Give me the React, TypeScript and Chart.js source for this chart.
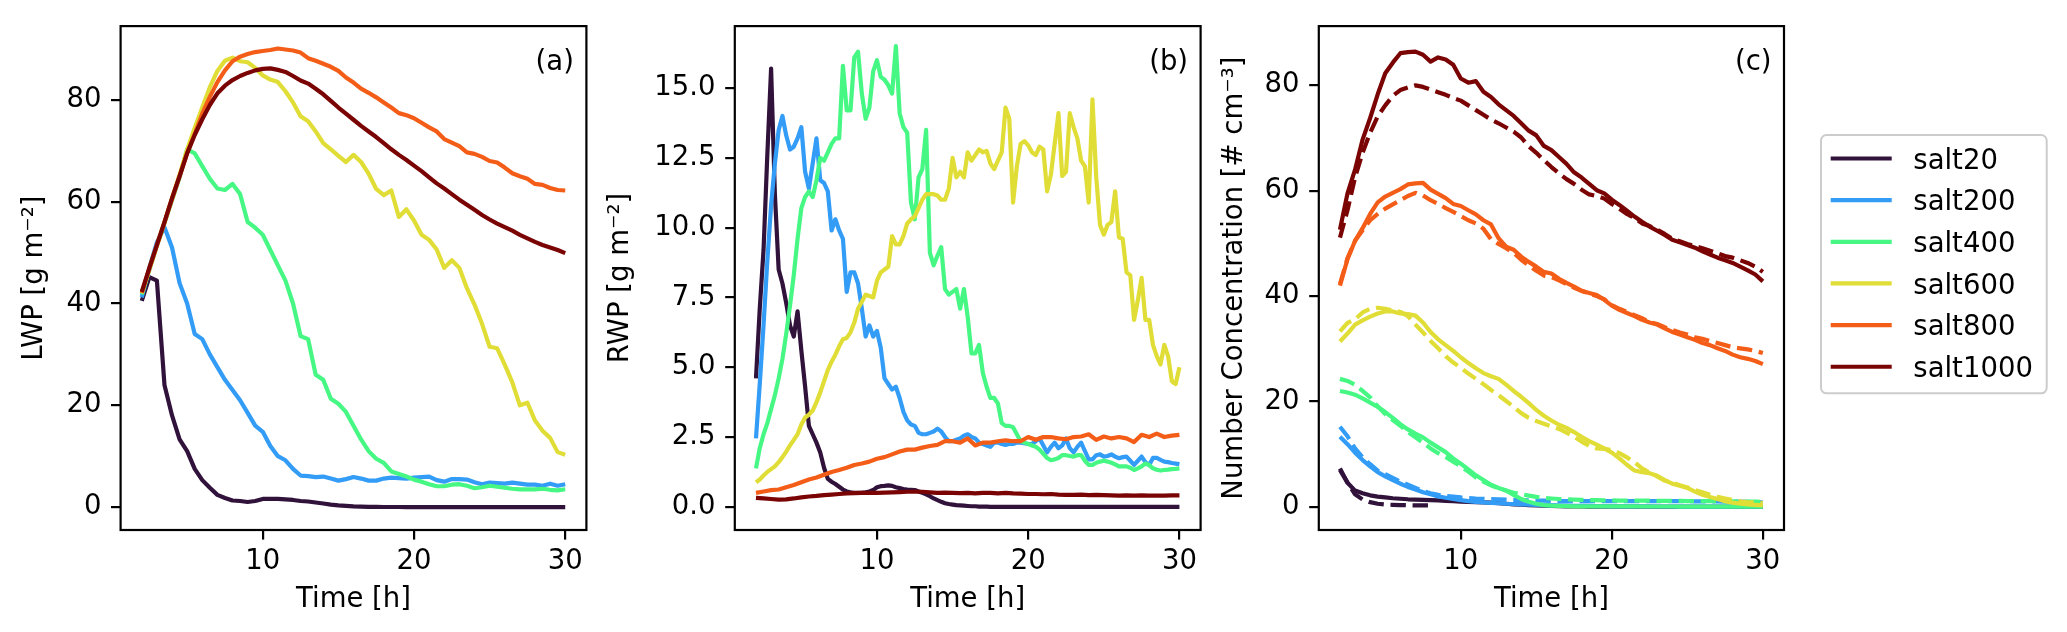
import React, { useEffect, useRef } from "react";
import { Chart, registerables } from "chart.js";

Chart.register(...registerables);

// ------------------------------------------------------------------ data
const T_HALF = [
  2, 2.5, 3, 3.5, 4, 4.5, 5, 5.5, 6, 6.5, 7, 7.5, 8, 8.5, 9, 9.5, 10, 10.5, 11, 11.5,
  12, 12.5, 13, 13.5, 14, 14.5, 15, 15.5, 16, 16.5, 17, 17.5, 18, 18.5, 19, 19.5, 20,
  20.5, 21, 21.5, 22, 22.5, 23, 23.5, 24, 24.5, 25, 25.5, 26, 26.5, 27, 27.5, 28, 28.5,
  29, 29.5, 30,
];

const T_QUARTER = [
  2, 2.25, 2.5, 2.75, 3, 3.25, 3.5, 3.75, 4, 4.25, 4.5, 4.75, 5, 5.25, 5.5, 5.75,
  6, 6.25, 6.5, 6.75, 7, 7.25, 7.5, 7.75, 8, 8.25, 8.5, 8.75, 9, 9.25, 9.5, 9.75,
  10, 10.25, 10.5, 10.75, 11, 11.25, 11.5, 11.75, 12, 12.25, 12.5, 12.75, 13, 13.25, 13.5, 13.75,
  14, 14.25, 14.5, 14.75, 15, 15.25, 15.5, 15.75, 16, 16.25, 16.5, 16.75, 17, 17.25, 17.5, 17.75,
  18, 18.25, 18.5, 18.75, 19, 19.25, 19.5, 19.75, 20, 20.25, 20.5, 20.75, 21, 21.25, 21.5, 21.75,
  22, 22.25, 22.5, 22.75, 23, 23.25, 23.5, 23.75, 24, 24.25, 24.5, 24.75, 25, 25.25, 25.5, 25.75,
  26, 26.25, 26.5, 26.75, 27, 27.25, 27.5, 27.75, 28, 28.25, 28.5, 28.75, 29, 29.25, 29.5, 29.75,
  30,
];

const X_TICKS = [10, 20, 30];
const LWP_TICKS = [0, 20, 40, 60, 80];
const RWP_TICKS = [0, 2.5, 5, 7.5, 10, 12.5, 15];
const NC_TICKS = [0, 20, 40, 60, 80];

const SALT_LABELS = ["salt20", "salt200", "salt400", "salt600", "salt800", "salt1000"];
const SALT_COLORS = ["#30123b", "#329cf6", "#46f784", "#e1dd37", "#f45d17", "#7a0403"];

// (a) liquid water path, half-hourly
const LWP_SALT20 = [
  40.5, 45.2, 44.5, 24, 18, 13.3, 11, 7.5, 5.3, 3.8, 2.4, 1.8, 1.3, 1.2, 1.0, 1.2, 1.6, 1.6, 1.6, 1.5,
  1.4, 1.2, 1.1, 0.9, 0.7, 0.5, 0.35, 0.25, 0.15, 0.1, 0.05, 0.03, 0.02, 0.02, 0.02, 0.01, 0.01, 0.01, 0.01, 0.01,
  0, 0, 0, 0, 0, 0, 0, 0, 0, 0, 0, 0, 0, 0, 0, 0, 0,
];
const LWP_SALT200 = [
  41.2, 47, 52, 55, 51, 44, 40, 34, 33, 30, 27.5, 25, 23, 21, 18.5, 16, 14.8, 12, 10, 9.2,
  7.5, 6.2, 6.1, 5.9, 6.0, 5.6, 5.2, 5.5, 5.9, 5.6, 5.2, 5.2, 5.6, 5.8, 5.7, 5.6, 5.8, 5.9, 6.0, 5.3,
  5.0, 5.5, 5.5, 5.4, 4.9, 4.5, 4.8, 4.7, 4.6, 4.8, 4.6, 4.4, 4.4, 4.2, 4.6, 4.2, 4.5,
];
const LWP_SALT400 = [
  41.8, 46.6, 51.3, 55.8, 60.3, 64.8, 70.3, 69.5, 67, 64.5, 62.6, 62.3, 63.5, 61.5, 56, 54.9, 53.5, 50.5, 47.5, 44.5,
  40, 33.6, 33, 26, 25, 21.3, 20.3, 18.7, 16, 13.3, 11, 9.5, 8.7, 7, 6.5, 6, 5.4, 5, 4.5, 4.1,
  4.1, 4.4, 4.5, 4.2, 3.7, 3.9, 4.2, 4.0, 3.8, 3.6, 3.5, 3.5, 3.5, 3.6, 3.4, 3.3, 3.5,
];
const LWP_SALT600 = [
  42, 46.8, 51.4, 56, 60.7, 65.3, 70.2, 74.5, 78.5, 82.5, 85.7, 87.7, 88.3, 87.6, 87.4, 86.3, 84.8, 84, 83.5, 81.7,
  79.5, 76.8, 75.8, 73.8, 71.5, 70.3, 69, 67.8, 69.2, 67.8, 65.5, 62.5, 61.3, 62.2, 57, 58.5, 56.3, 53.5, 52.5, 50.6,
  47, 48.5, 47, 43, 39.8, 36, 31.5, 31.2, 28, 24.5, 20, 20.5, 17, 15, 13.6, 10.8, 10.3,
];
const LWP_SALT800 = [
  42.1, 46.8, 51.4, 55.9, 60.5, 65, 69.6, 73.3, 77.3, 80.6, 83.5, 85.8, 87.6, 88.5, 89, 89.4, 89.6, 89.8, 90.1, 89.9,
  89.7, 89.3, 88.2, 87.7, 87.1, 86.5, 85.7, 84.4, 83.4, 82.2, 81.4, 80.5, 79.5, 78.5, 77.4, 77, 76.4, 75.5, 74.6, 73.8,
  72.3, 71.6, 70.9, 69.7, 69.4, 68.8, 68, 67.7, 66.7, 65.6, 65, 64.5, 63.5, 63.3, 62.7, 62.3, 62.2,
];
const LWP_SALT1000 = [
  42.3, 47, 51.5, 56, 60.7, 65, 69.5, 73.1, 76.2, 79, 81.3, 82.8, 83.9, 84.7, 85.3, 85.8, 86.1, 86.2, 85.9, 85.5,
  84.7, 83.8, 83.2, 82.2, 81.1, 79.8, 78.5, 77.3, 76.1, 74.9, 73.8, 72.7, 71.5, 70.3, 69.2, 68.2, 67.1, 66, 64.8, 63.6,
  62.6, 61.5, 60.4, 59.4, 58.4, 57.4, 56.5, 55.7, 55, 54.3, 53.5, 52.8, 52.1, 51.5, 51, 50.5, 49.9,
];

// (b) rain water path; quarter-hourly for the spiky runs, half-hourly for the smooth ones
const RWP_SALT20 = [
  4.6, 7.1, 9.2, 12.6, 15.7, 11.2, 8.5, 8.0, 7.3, 6.5, 6.1, 7.0, 5.6, 4.3, 2.9, 2.6,
  2.3, 1.95, 1.4, 1.0, 0.9, 0.82, 0.72, 0.62, 0.55, 0.52, 0.5, 0.5, 0.5, 0.52, 0.55, 0.6,
  0.7, 0.74, 0.75, 0.77, 0.75, 0.7, 0.67, 0.64, 0.62, 0.61, 0.6, 0.55, 0.5, 0.45, 0.38, 0.3,
  0.24, 0.18, 0.13, 0.1, 0.08, 0.06, 0.05, 0.04, 0.03, 0.02, 0.02, 0.01, 0.01, 0.01, 0, 0,
  0, 0, 0, 0, 0, 0, 0, 0, 0, 0, 0, 0, 0, 0, 0, 0,
  0, 0, 0, 0, 0, 0, 0, 0, 0, 0, 0, 0, 0, 0, 0, 0,
  0, 0, 0, 0, 0, 0, 0, 0, 0, 0, 0, 0, 0, 0, 0, 0,
  0,
];
const RWP_SALT200 = [
  2.45, 4.4, 6.5, 8.8, 10.8, 12.3, 13.5, 14.0, 13.3, 12.8, 12.9, 13.2, 13.6, 12.0, 11.4, 12.3,
  13.2, 11.7, 11.6, 11.3, 9.9, 10.3, 9.9, 9.6, 7.7, 8.4, 8.4, 8.0, 7.1, 6.1, 6.5, 6.1,
  6.3, 5.7, 4.6, 4.4, 4.2, 4.3, 3.9, 3.4, 3.1, 2.95, 2.9, 2.65, 2.6, 2.6, 2.65, 2.7,
  2.8, 2.7, 2.5, 2.35, 2.35, 2.4, 2.45, 2.55, 2.6, 2.5, 2.45, 2.3, 2.25, 2.2, 2.15, 2.3,
  2.3, 2.25, 2.22, 2.25, 2.25, 2.3, 2.3, 2.28, 2.25, 2.25, 2.35, 2.45, 2.2, 1.95, 2.15, 2.3,
  2.1, 2.2, 2.45, 2.1, 1.95, 2.15, 2.3, 2.0, 1.7, 1.7, 1.85, 1.88, 1.8, 1.82, 1.88, 1.8,
  1.74, 1.78, 1.8, 1.65, 1.5, 1.65, 1.8, 1.6, 1.5, 1.75, 1.75, 1.68, 1.62, 1.6, 1.57, 1.55,
  1.53,
];
const RWP_SALT400 = [
  1.38, 2.1, 2.6, 3.0, 3.5, 4.0, 4.6, 5.3, 6.2, 7.2, 8.3, 9.6, 10.7, 11.1, 11.3, 11.1,
  11.7, 12.5, 12.4, 12.7, 13.0, 13.2, 13.2, 15.8, 14.2, 14.2, 16.1, 16.3, 14.8, 13.9, 14.3, 15.6,
  16.0, 15.4, 15.3, 15.1, 14.8, 16.5, 14.1, 13.6, 13.4, 10.9, 10.3, 11.8, 12.1, 13.5, 9.1, 8.65,
  9.0, 9.3, 7.8, 7.6, 7.7, 7.8, 7.1, 7.8, 6.8, 5.5, 5.5, 5.8, 4.8, 4.3, 3.9, 3.9,
  3.7, 3.0, 2.9, 2.9, 2.85, 2.6, 2.35, 2.3, 2.25, 2.2, 2.15, 2.05, 1.9, 1.75, 1.67, 1.7,
  1.75, 1.85, 1.85, 1.82, 1.8, 1.85, 1.85, 1.65, 1.5, 1.5, 1.58, 1.62, 1.65, 1.62, 1.58, 1.52,
  1.45, 1.45, 1.45, 1.4, 1.32, 1.38, 1.45, 1.55, 1.5, 1.38, 1.33, 1.3, 1.32, 1.33, 1.35, 1.36,
  1.38,
];
const RWP_SALT600 = [
  0.88, 0.98, 1.12, 1.25, 1.35, 1.45, 1.6, 1.78, 1.98, 2.2, 2.4, 2.6, 2.95, 3.2, 3.3, 3.45,
  3.75, 4.1, 4.5, 4.9, 5.2, 5.45, 5.75, 6.0, 6.05, 6.25, 6.6, 7.1, 7.35, 7.6, 7.55, 7.5,
  8.1, 8.4, 8.5, 8.6, 9.7, 9.4, 9.4, 9.7, 10.15, 10.3, 10.4, 10.7, 11.0, 11.2, 11.2, 11.2,
  11.15, 11.0, 11.0, 11.4, 12.5, 11.8, 12.0, 11.8, 12.7, 12.4, 12.6, 12.8, 12.7, 12.75, 12.3, 12.1,
  12.4, 12.7, 14.3, 13.9, 10.9, 12.2, 13.0, 13.1, 12.95, 12.7, 12.6, 12.9, 12.8, 11.3, 11.9, 13.0,
  14.1, 11.85, 12.0, 14.1, 13.6, 13.2, 12.4, 12.2, 10.9, 14.6, 11.8, 10.1, 9.75, 10.1, 10.2, 11.3,
  9.65, 9.6, 8.4, 8.3, 6.7, 7.4, 8.2, 6.7, 6.7, 5.8, 5.4, 5.1, 5.8, 5.4, 4.5, 4.4,
  5.0,
];
const RWP_SALT800 = [
  0.5, 0.55, 0.6, 0.62, 0.7, 0.78, 0.88, 0.98, 1.05, 1.15, 1.25, 1.32, 1.4, 1.5, 1.55, 1.62, 1.72, 1.78, 1.88, 1.98,
  2.05, 2.05, 2.12, 2.18, 2.22, 2.35, 2.35, 2.3, 2.45, 2.2, 2.3, 2.3, 2.35, 2.38, 2.35, 2.35, 2.5, 2.4, 2.5, 2.5,
  2.45, 2.42, 2.5, 2.52, 2.6, 2.4, 2.52, 2.45, 2.5, 2.45, 2.32, 2.58, 2.5, 2.62, 2.5, 2.55, 2.58,
];
const RWP_SALT1000 = [
  0.32, 0.3, 0.28, 0.26, 0.27, 0.3, 0.34, 0.37, 0.39, 0.42, 0.44, 0.46, 0.48, 0.49, 0.5, 0.5, 0.5, 0.51, 0.52, 0.53,
  0.54, 0.55, 0.54, 0.52, 0.5, 0.51, 0.5, 0.49, 0.5, 0.48, 0.5, 0.5, 0.48, 0.5, 0.48, 0.47, 0.46, 0.46, 0.45, 0.46,
  0.44, 0.43, 0.43, 0.44, 0.42, 0.43, 0.42, 0.41, 0.4, 0.41, 0.4, 0.41, 0.4, 0.4, 0.4, 0.41, 0.41,
];

// (c) number concentration, half-hourly; *_B = dashed companion
const NC_SALT20 = [
  7.3, 4.6, 3.1, 2.6, 2.2, 1.95, 1.8, 1.65, 1.55, 1.45, 1.4, 1.35, 1.3, 1.25, 1.15, 1.1, 1, 0.95, 0.9, 0.85,
  0.8, 0.7, 0.6, 0.5, 0.45, 0.35, 0.3, 0.25, 0.2, 0.15, 0.12, 0.1, 0.08, 0.07, 0.06, 0.05, 0.05, 0.04, 0.04, 0.04,
  0.03, 0.03, 0.03, 0.03, 0.03, 0.02, 0.02, 0.02, 0.02, 0.02, 0.02, 0.02, 0.02, 0.02, 0.02, 0.02, 0.02,
];
const NC_SALT20_B = [7.0, 4.6, 2.4, 1.4, 0.9, 0.6, 0.45, 0.4, 0.35, 0.32, 0.3, 0.3, 0.3];
const NC_SALT200 = [
  13.3, 11.9, 10.3, 8.9, 7.7, 6.6, 5.8, 5.1, 4.4, 3.8, 3.3, 2.8, 2.4, 2, 1.75, 1.5, 1.3, 1.1, 0.95, 0.85,
  0.75, 0.7, 0.6, 0.55, 0.5, 0.45, 0.4, 0.35, 0.3, 0.28, 0.25, 0.22, 0.2, 0.18, 0.16, 0.14, 0.12, 0.11, 0.1, 0.1,
  0.09, 0.09, 0.08, 0.08, 0.08, 0.07, 0.07, 0.07, 0.06, 0.06, 0.06, 0.06, 0.05, 0.05, 0.05, 0.05, 0.05,
];
const NC_SALT200_B = [
  15.2, 13.4, 11.1, 9.4, 8.1, 6.9, 6.2, 5.5, 4.8, 4.2, 3.6, 3, 2.6, 2.3, 2.1, 1.95, 1.8, 1.7, 1.6, 1.55,
  1.5, 1.45, 1.4, 1.35, 1.3, 1.25, 1.2, 1.18, 1.15, 1.12, 1.1, 1.1, 1.1, 1.1, 1.1, 1.1, 1.1, 1.1, 1.1, 1.1,
  1.1, 1.1, 1.1, 1.1, 1.1, 1.1, 1.1, 1.05, 1.05, 1.05, 1.05, 1.0, 1.0, 1.0, 0.95, 0.9, 0.85,
];
const NC_SALT400 = [
  22, 21.7, 21.3, 20.6, 19.8, 19, 18, 16.9, 15.7, 14.7, 13.9, 13.2, 12.2, 11.3, 10.4, 9.2, 8.2, 7.1, 6, 5.1,
  4.2, 3.6, 3.1, 2.3, 1.5, 1, 0.6, 0.35, 0.25, 0.2, 0.15, 0.12, 0.1, 0.1, 0.1, 0.1, 0.1, 0.1, 0.1, 0.1,
  0.08, 0.08, 0.08, 0.08, 0.08, 0.07, 0.07, 0.07, 0.07, 0.06, 0.06, 0.06, 0.06, 0.05, 0.05, 0.05, 0.05,
];
const NC_SALT400_B = [
  24.3, 23.9, 23.2, 22, 20.8, 19.1, 17.6, 16.5, 15.4, 14.2, 13.2, 12.2, 11.1, 10.2, 9.5, 8.6, 7.7, 6.7, 5.6, 4.8,
  4.1, 3.5, 3.1, 2.7, 2.4, 2.15, 1.9, 1.7, 1.6, 1.5, 1.45, 1.4, 1.35, 1.3, 1.3, 1.25, 1.25, 1.2, 1.2, 1.2,
  1.2, 1.2, 1.15, 1.15, 1.15, 1.15, 1.1, 1.1, 1.1, 1.1, 1.1, 1.05, 1.05, 1.0, 1.0, 1.0, 0.95,
];
const NC_SALT600 = [
  31.4, 32.9, 34.6, 35.4, 36.1, 36.7, 37.1, 37.1, 36.7, 36.6, 36.3, 35, 33.2, 31.8, 30.7, 29.6, 28.4, 27.3, 26.3, 25.4,
  24.8, 24.3, 23.2, 22, 20.9, 19.7, 18.4, 17.3, 16.4, 15.6, 15, 14.2, 13.3, 12.5, 11.8, 11.1, 10.3, 9.2, 8, 6.9,
  6.6, 6.4, 5.9, 5.1, 4.4, 4, 3.6, 2.9, 2.3, 1.9, 1.5, 1.1, 0.8, 0.6, 0.5, 0.4, 0.3,
];
const NC_SALT600_B = [
  33.3, 34.9, 35.6, 36.9, 37.6, 37.8, 37.6, 37.3, 37, 36.2, 34.6, 33.1, 31.5, 30.1, 28.6, 27.4, 26.4, 25.3, 24.3, 23.3,
  22.2, 21.2, 20.1, 19, 17.8, 16.9, 16.3, 15.8, 15.3, 14.8, 14.1, 13.3, 12.4, 11.6, 11.1, 11, 10.8, 10.2, 9.4, 8.5,
  7.3, 6.5, 5.8, 5, 4.6, 4.1, 3.7, 3.2, 2.8, 2.3, 1.9, 1.6, 1.3, 1.05, 0.9, 0.85, 0.75,
];
const NC_SALT800 = [
  42, 47, 50.5, 52.9, 55.6, 57.8, 58.9, 59.6, 60.3, 61.2, 61.4, 61.5, 60.2, 59.4, 58.6, 57.5, 57.1, 56.3, 55.5, 54.4,
  53.6, 51, 49.4, 48.8, 47.5, 46.5, 45.6, 44.6, 44.3, 43.3, 42.5, 41.8, 41, 40.6, 40.2, 39.3, 38.2, 37.4, 36.8, 36.2,
  35.5, 35, 34.6, 33.9, 33.2, 32.7, 32.2, 31.7, 31.1, 30.7, 30.1, 29.6, 28.9, 28.4, 28.1, 27.7, 27.1,
];
const NC_SALT800_B = [
  42.3, 47.2, 50.5, 52.5, 54.4, 55.6, 56.6, 57.4, 58.2, 59, 59.6, 59.1, 58.2, 57.5, 56.7, 56, 55.2, 54.4, 53.8, 52.8,
  50.8, 49.9, 49.1, 48.2, 46.9, 45.8, 44.8, 43.9, 43.6, 43, 42.3, 41.6, 41, 40.5, 40, 39.4, 38.3, 37.6, 37, 36.4,
  35.8, 35.1, 34.7, 34.1, 33.6, 33.1, 32.7, 32.2, 31.9, 31.5, 31.1, 30.7, 30.3, 30.1, 29.9, 29.6, 29.2,
];
const NC_SALT1000 = [
  52.6, 59.5, 64, 69.7, 73.8, 78.3, 82.3, 84.3, 86.1, 86.3, 86.4, 85.8, 84.5, 85.3, 84.9, 83.9, 81.3, 80.5, 80.8, 78.8,
  77.8, 76.4, 75.3, 74.2, 72.8, 71.4, 70.5, 68.5, 67.7, 66.4, 65.1, 63.5, 62.5, 61.3, 60.1, 59.5, 58.3, 57.3, 56.2, 55.1,
  54.1, 53.2, 52.4, 51.6, 50.7, 50.2, 49.7, 49.2, 48.5, 47.9, 47.3, 46.8, 46.3, 45.6, 44.9, 44.1, 42.8,
];
const NC_SALT1000_B = [
  51.1, 56.3, 62.5, 67.2, 71, 74.1, 76.2, 78, 79.1, 79.6, 80, 79.7, 79.2, 78.7, 78.2, 77.6, 77.1, 76.2, 75.3, 74.4,
  73.5, 72.8, 72, 71.2, 70.1, 68.4, 67.2, 65.8, 64.5, 63.3, 62.2, 61.3, 60.2, 59.3, 59, 58.5, 57.5, 56.6, 55.6, 54.8,
  53.8, 53.3, 52.6, 51.8, 50.9, 50.4, 49.9, 49.5, 49.1, 48.6, 48.1, 47.6, 47.3, 46.8, 46.3, 45.6, 44.6,
];

// ------------------------------------------------------------------ style
const FONT_FAMILY = "'DejaVu Sans', 'Liberation Sans', sans-serif";
const FS = 27.5;
const LW = 4.2;
const DASH = [15.4, 6.7];
const SPINE = 2.2;
const TICK_LEN = 9.6;
const CANVAS_H = 632;
const AREA_TOP = 18.9;
const AREA_BOTTOM = 530;

function line(times: number[], values: number[], color: string, label: string, dashed = false) {
  return {
    label,
    data: values.map((v, i) => ({ x: times[i], y: v })),
    borderColor: color,
    backgroundColor: color,
    borderWidth: LW,
    borderDash: dashed ? DASH : [],
    borderJoinStyle: "round" as const,
    borderCapStyle: "butt" as const,
    pointRadius: 0,
    pointHoverRadius: 0,
    tension: 0,
    fill: false,
  };
}

function withOrder(ds: any[]) {
  // later datasets on top, like matplotlib
  return ds.map((d, i) => ({ ...d, order: ds.length - i }));
}

const framePlugin = {
  id: "frame",
  afterDatasetsDraw(chart: any) {
    const { ctx, chartArea: a } = chart;
    ctx.save();
    ctx.strokeStyle = "#000";
    ctx.lineWidth = SPINE;
    ctx.strokeRect(a.left, a.top, a.right - a.left, a.bottom - a.top);
    ctx.restore();
  },
};

function panelLabelPlugin(text: string) {
  return {
    id: "panelLabel",
    afterDraw(chart: any) {
      const { ctx, chartArea: a } = chart;
      ctx.save();
      ctx.font = `${FS}px ${FONT_FAMILY}`;
      ctx.fillStyle = "#000";
      ctx.textAlign = "right";
      ctx.textBaseline = "alphabetic";
      ctx.fillText(text, a.right - 12.5, 70);
      ctx.restore();
    },
  };
}

const legendPlugin = {
  id: "saltLegend",
  afterDraw(chart: any) {
    const { ctx } = chart;
    const x0 = 621;
    const y0 = 135;
    const w = 225.7;
    const h = 258.3;
    ctx.save();
    ctx.beginPath();
    if (ctx.roundRect) ctx.roundRect(x0, y0, w, h, 5.5);
    else ctx.rect(x0, y0, w, h);
    ctx.fillStyle = "rgba(255,255,255,0.8)";
    ctx.fill();
    ctx.strokeStyle = "#cccccc";
    ctx.lineWidth = 2;
    ctx.stroke();
    const entries = chart.data.datasets.filter((d: any) => !d.borderDash || d.borderDash.length === 0);
    ctx.font = `${FS}px ${FONT_FAMILY}`;
    ctx.textAlign = "left";
    ctx.textBaseline = "alphabetic";
    entries.forEach((d: any, i: number) => {
      const cy = 158.5 + i * 41.65;
      ctx.beginPath();
      ctx.strokeStyle = d.borderColor;
      ctx.lineWidth = LW;
      ctx.lineCap = "butt";
      ctx.moveTo(630.7, cy);
      ctx.lineTo(691.7, cy);
      ctx.stroke();
      ctx.fillStyle = "#000";
      ctx.fillText(d.label, 713.3, cy + 10.3);
    });
    ctx.restore();
  },
};

function panelConfig(p: {
  datasets: any[];
  canvasW: number;
  areaLeft: number;
  areaRight: number;
  yMin: number;
  yMax: number;
  yTicks: number[];
  yFmt: (v: number) => string;
  yTitle: string;
  yTitlePad: number;
  label: string;
  extra?: any[];
}) {
  const font = { family: FONT_FAMILY, size: FS, lineHeight: 1.2 };
  const grid = {
    display: true,
    drawOnChartArea: false,
    drawTicks: true,
    tickLength: TICK_LEN,
    tickWidth: SPINE,
    tickColor: "#000",
    color: "#000",
    lineWidth: SPINE,
  };
  return {
    type: "line" as const,
    data: { datasets: withOrder(p.datasets) },
    options: {
      responsive: false,
      animation: false as const,
      events: [],
      layout: {
        padding: { left: 0, top: AREA_TOP, right: p.canvasW - p.areaRight, bottom: 0 },
      },
      plugins: { legend: { display: false }, tooltip: { enabled: false } },
      scales: {
        x: {
          type: "linear" as const,
          min: 0.6,
          max: 31.4,
          afterBuildTicks: (s: any) => {
            s.ticks = X_TICKS.map((v) => ({ value: v }));
          },
          afterFit: (s: any) => {
            s.height = CANVAS_H - AREA_BOTTOM;
          },
          grid,
          border: { display: false },
          ticks: {
            font,
            color: "#000",
            padding: 6,
            maxRotation: 0,
            autoSkip: false,
            callback: (v: any) => String(v),
          },
          title: {
            display: true,
            text: "Time [h]",
            color: "#000",
            font,
            padding: { top: 0, bottom: 15.5 },
          },
        },
        y: {
          type: "linear" as const,
          min: p.yMin,
          max: p.yMax,
          afterBuildTicks: (s: any) => {
            s.ticks = p.yTicks.map((v) => ({ value: v }));
          },
          afterFit: (s: any) => {
            s.width = p.areaLeft;
          },
          grid,
          border: { display: false },
          ticks: {
            font,
            color: "#000",
            padding: TICK_LEN,
            autoSkip: false,
            callback: (v: any) => p.yFmt(Number(v)),
          },
          title: {
            display: true,
            text: p.yTitle,
            color: "#000",
            font,
            padding: { top: p.yTitlePad, bottom: 0 },
          },
        },
      },
    },
    plugins: [framePlugin, panelLabelPlugin(p.label), ...(p.extra || [])],
  };
}

const C = SALT_COLORS;
const L = SALT_LABELS;

const lwpSets = [
  line(T_HALF, LWP_SALT20, C[0], L[0]),
  line(T_HALF, LWP_SALT200, C[1], L[1]),
  line(T_HALF, LWP_SALT400, C[2], L[2]),
  line(T_HALF, LWP_SALT600, C[3], L[3]),
  line(T_HALF, LWP_SALT800, C[4], L[4]),
  line(T_HALF, LWP_SALT1000, C[5], L[5]),
];

const rwpSets = [
  line(T_QUARTER, RWP_SALT20, C[0], L[0]),
  line(T_QUARTER, RWP_SALT200, C[1], L[1]),
  line(T_QUARTER, RWP_SALT400, C[2], L[2]),
  line(T_QUARTER, RWP_SALT600, C[3], L[3]),
  line(T_HALF, RWP_SALT800, C[4], L[4]),
  line(T_HALF, RWP_SALT1000, C[5], L[5]),
];

const ncSets = [
  line(T_HALF, NC_SALT20, C[0], L[0]),
  line(T_HALF, NC_SALT20_B, C[0], L[0], true),
  line(T_HALF, NC_SALT200, C[1], L[1]),
  line(T_HALF, NC_SALT200_B, C[1], L[1], true),
  line(T_HALF, NC_SALT400, C[2], L[2]),
  line(T_HALF, NC_SALT400_B, C[2], L[2], true),
  line(T_HALF, NC_SALT600, C[3], L[3]),
  line(T_HALF, NC_SALT600_B, C[3], L[3], true),
  line(T_HALF, NC_SALT800, C[4], L[4]),
  line(T_HALF, NC_SALT800_B, C[4], L[4], true),
  line(T_HALF, NC_SALT1000, C[5], L[5]),
  line(T_HALF, NC_SALT1000_B, C[5], L[5], true),
];

export default function App() {
  const refA = useRef<HTMLCanvasElement>(null);
  const refB = useRef<HTMLCanvasElement>(null);
  const refC = useRef<HTMLCanvasElement>(null);

  useEffect(() => {
    Chart.defaults.font.family = FONT_FAMILY;
    const charts: Chart[] = [];
    if (refA.current)
      charts.push(
        new Chart(
          refA.current,
          panelConfig({
            datasets: lwpSets,
            canvasW: 600,
            areaLeft: 120.6,
            areaRight: 586.4,
            yMin: -4.5,
            yMax: 94.5,
            yTicks: LWP_TICKS,
            yFmt: (v) => String(v),
            yTitle: "LWP [g m\u207B\u00B2]",
            yTitlePad: 18.3,
            label: "(a)",
          }) as any
        )
      );
    if (refB.current)
      charts.push(
        new Chart(
          refB.current,
          panelConfig({
            datasets: rwpSets,
            canvasW: 610,
            areaLeft: 134.8,
            areaRight: 600.6,
            yMin: -0.83,
            yMax: 17.22,
            yTicks: RWP_TICKS,
            yFmt: (v) => v.toFixed(1),
            yTitle: "RWP [g m\u207B\u00B2]",
            yTitlePad: 4.8,
            label: "(b)",
          }) as any
        )
      );
    if (refC.current)
      charts.push(
        new Chart(
          refC.current,
          panelConfig({
            datasets: ncSets,
            canvasW: 867,
            areaLeft: 118.8,
            areaRight: 584,
            yMin: -4.38,
            yMax: 91.24,
            yTicks: NC_TICKS,
            yFmt: (v) => String(v),
            yTitle: "Number Concentration [# cm\u207B\u00B3]",
            yTitlePad: 18.3,
            label: "(c)",
            extra: [legendPlugin],
          }) as any
        )
      );
    return () => charts.forEach((c) => c.destroy());
  }, []);

  const abs = (left: number): React.CSSProperties => ({ position: "absolute", left, top: 0 });
  return (
    <div style={{ position: "absolute", left: 0, top: 0, width: 2067, height: 632, background: "#ffffff", overflow: "hidden" }}>
      <canvas ref={refA} width={600} height={632} style={abs(0)} />
      <canvas ref={refB} width={610} height={632} style={abs(600)} />
      <canvas ref={refC} width={867} height={632} style={abs(1200)} />
    </div>
  );
}
